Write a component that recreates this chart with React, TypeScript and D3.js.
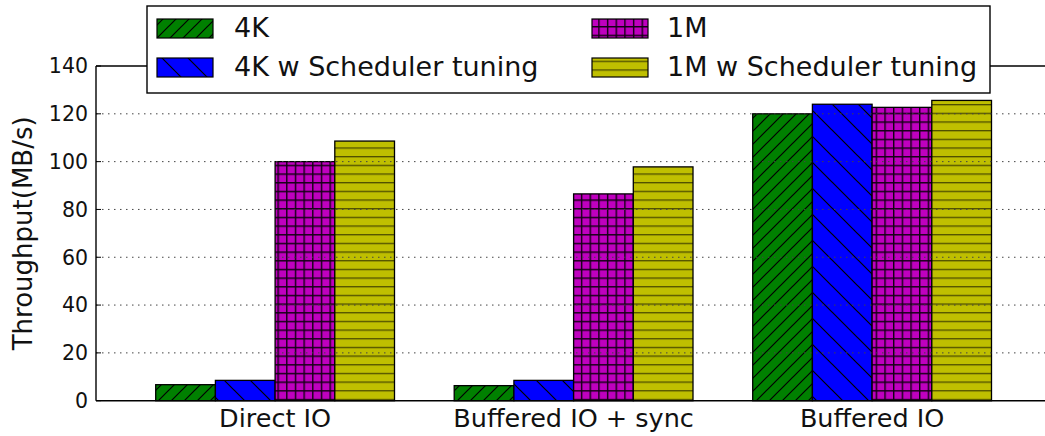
import React from "react";
import * as d3 from "d3";

// Throughput per IO mode, for each request size / scheduler setting
const categories = ["Direct IO", "Buffered IO + sync", "Buffered IO"];
const seriesNames = ["4K", "4K w Scheduler tuning", "1M", "1M w Scheduler tuning"];
const values4K = [6.7, 6.3, 120];
const values4KTuned = [8.5, 8.5, 124];
const values1M = [100, 86.5, 122.7];
const values1MTuned = [108.6, 97.8, 125.6];
const yTicks = [0, 20, 40, 60, 80, 100, 120, 140];

const seriesValues = [values4K, values4KTuned, values1M, values1MTuned];
const patternIds = ["hatch-green", "hatch-blue", "hatch-magenta", "hatch-yellow"];

const W = 1045;
const H = 436;
const FONT = "'DejaVu Sans', sans-serif";

export default function App() {
  const x = d3.scaleLinear().domain([-0.6, 2.6]).range([96, 96 + 3.2 * 298.5]);
  const y = d3.scaleLinear().domain([0, 140]).range([400.7, 66]);
  const barW = 0.2;
  const x0 = x(-0.6);
  const x1 = W;

  return (
    <svg
      width={W}
      height={H}
      style={{ position: "absolute", left: 0, top: 0, background: "#fff" }}
      fontFamily={FONT}
    >
      <defs>
        <pattern id="hatch-green" patternUnits="userSpaceOnUse" width={13} height={13}>
          <rect width={13} height={13} fill="#008000" />
          <path d="M-3,3 L3,-3 M0,13 L13,0 M10,16 L16,10" stroke="#000" strokeWidth={1.2} />
        </pattern>
        <pattern id="hatch-blue" patternUnits="userSpaceOnUse" width={26} height={26}>
          <rect width={26} height={26} fill="#0000ff" />
          <path d="M0,0 L26,26 M-3,23 L3,29 M23,-3 L29,3" stroke="#000" strokeWidth={1.2} />
        </pattern>
        <pattern id="hatch-magenta" patternUnits="userSpaceOnUse" width={8.67} height={8.67}>
          <rect width={8.67} height={8.67} fill="#bf00bf" />
          <path d="M0,0 L8.67,0 M0,0 L0,8.67" stroke="#000" strokeWidth={2.8} strokeOpacity={0.9} />
        </pattern>
        <pattern id="hatch-yellow" patternUnits="userSpaceOnUse" width={8.67} height={8.67}>
          <rect width={8.67} height={8.67} fill="#bfbf00" />
          <path d="M0,0 L8.67,0" stroke="#000" strokeWidth={2.6} strokeOpacity={0.6} />
        </pattern>
      </defs>

      {/* bars */}
      {seriesValues.map((vals, s) =>
        vals.map((v, i) => {
          const left = x(i - 0.4 + s * barW);
          const right = x(i - 0.4 + (s + 1) * barW);
          return (
            <rect
              key={`${s}-${i}`}
              x={left}
              y={y(v)}
              width={right - left}
              height={y(0) - y(v)}
              fill={`url(#${patternIds[s]})`}
              stroke="#000"
              strokeWidth={1.3}
            />
          );
        })
      )}

      {/* dotted horizontal grid */}
      {yTicks.slice(1, -1).map((t) => (
        <line
          key={t}
          x1={x0}
          x2={x1}
          y1={y(t)}
          y2={y(t)}
          stroke="#444"
          strokeWidth={1}
          strokeDasharray="1.5,4.5"
        />
      ))}

      {/* spines */}
      <line x1={x0} x2={x1} y1={y(140)} y2={y(140)} stroke="#000" strokeWidth={1.4} />
      <line x1={x0} x2={x1} y1={y(0)} y2={y(0)} stroke="#000" strokeWidth={1.4} />
      <line x1={x0} x2={x0} y1={y(0)} y2={y(140)} stroke="#000" strokeWidth={1.4} />

      {/* y ticks */}
      {yTicks.map((t) => (
        <g key={t}>
          <line x1={x0} x2={x0 + 5} y1={y(t)} y2={y(t)} stroke="#000" strokeWidth={1} />
          <text x={88} y={y(t)} dy="0.36em" textAnchor="end" fontSize={20.5} fill="#111">
            {t}
          </text>
        </g>
      ))}

      {/* category labels */}
      {categories.map((c, i) => (
        <text key={c} x={x(i)} y={427} textAnchor="middle" fontSize={25.5} fill="#111">
          {c}
        </text>
      ))}

      {/* y axis title */}
      <text
        transform={`translate(32,${(y(0) + y(140)) / 2}) rotate(-90)`}
        textAnchor="middle"
        fontSize={26}
        fill="#111"
      >
        Throughput(MB/s)
      </text>

      {/* legend */}
      <g>
        <rect x={147} y={6} width={843} height={87} fill="#fff" stroke="#000" strokeWidth={1.4} />
        {seriesNames.map((name, s) => {
          const col = s < 2 ? 0 : 1;
          const row = s % 2;
          const px = col === 0 ? 157 : 592;
          const tx = col === 0 ? 234 : 667;
          const py = row === 0 ? 19 : 58;
          return (
            <g key={name}>
              <rect
                x={px}
                y={py}
                width={56}
                height={19}
                fill={`url(#${patternIds[s]})`}
                stroke="#000"
                strokeWidth={1.2}
              />
              <text x={tx} y={py + 18} fontSize={27} fill="#111">
                {name}
              </text>
            </g>
          );
        })}
      </g>
    </svg>
  );
}
